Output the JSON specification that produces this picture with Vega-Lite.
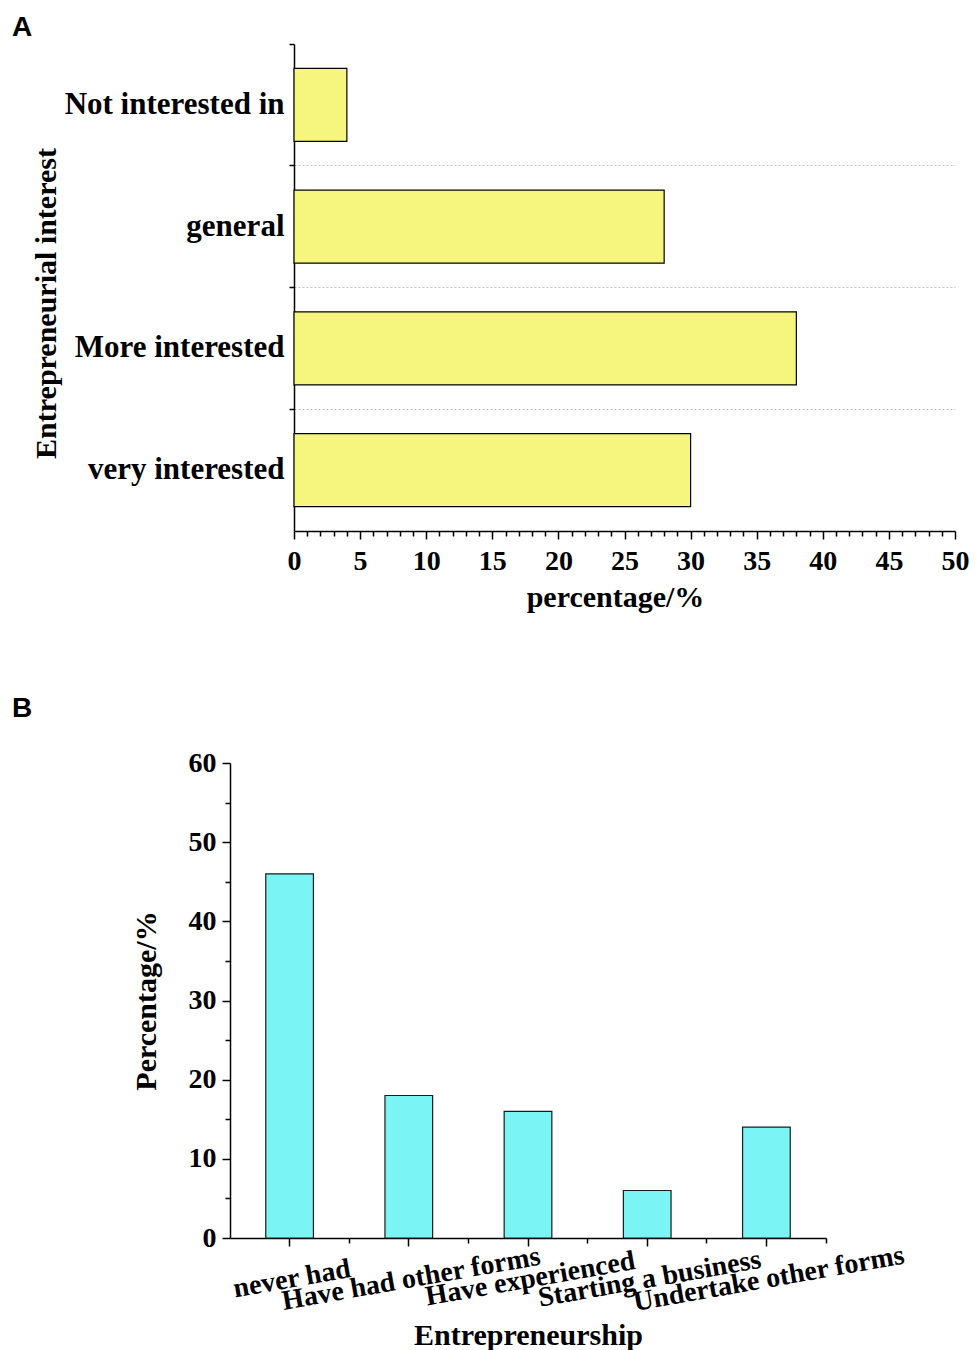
{
  "$schema": "https://vega.github.io/schema/vega-lite/v6.json",
  "autosize": "none",
  "padding": {"left": 294, "top": 44, "right": 681, "bottom": 1306},
  "background": "white",
  "bounds": "flush",
  "spacing": 232,
  "config": {
    "view": {"stroke": null},
    "axis": {
      "labelFont": "Liberation Serif",
      "labelFontWeight": "bold",
      "labelColor": "black",
      "titleFont": "Liberation Serif",
      "titleFontWeight": "bold",
      "titleColor": "black",
      "domainColor": "black",
      "domainWidth": 1.5,
      "tickColor": "black",
      "tickWidth": 1.5,
      "labelLimit": 400,
      "labelOverlap": false,
      "labelFlush": false,
      "grid": false
    },
    "title": {
      "font": "Liberation Sans",
      "fontWeight": "bold",
      "fontSize": 28,
      "color": "black",
      "anchor": "start",
      "frame": "group",
      "baseline": "alphabetic"
    }
  },
  "vconcat": [
    {
      "title": {"text": "A", "dx": -282, "offset": 1},
      "width": 661,
      "height": 487,
      "data": {
        "values": [
          {"interest": "Not interested in", "percentage": 4},
          {"interest": "general", "percentage": 28},
          {"interest": "More interested", "percentage": 38},
          {"interest": "very interested", "percentage": 30}
        ]
      },
      "mark": {"type": "bar", "fill": "#f6f67e", "stroke": "black", "strokeWidth": 1.2},
      "encoding": {
        "y": {
          "field": "interest",
          "type": "nominal",
          "sort": null,
          "scale": {"paddingInner": 0.4, "paddingOuter": 0.2},
          "axis": {
            "title": "Entrepreneurial interest",
            "titleFontSize": 30,
            "titleX": -239,
            "titleY": 259,
            "titleAngle": -90,
            "titleBaseline": "alphabetic",
            "titleAlign": "center",
            "labelFontSize": 31,
            "labelPadding": 5,
            "labelOffset": 0,
            "bandPosition": -0.3333,
            "tickSize": 5,
            "grid": true,
            "gridDash": [2, 2],
            "gridColor": "#c0c0c0",
            "gridWidth": 1,
            "gridOpacity": {"condition": {"test": "datum.value === 'Not interested in'", "value": 0}, "value": 1}
          }
        },
        "x": {
          "field": "percentage",
          "type": "quantitative",
          "scale": {"domain": [0, 50], "nice": false},
          "axis": {
            "title": "percentage/%",
            "titleFontSize": 30,
            "titleX": 321,
            "titleY": 75,
            "titleBaseline": "alphabetic",
            "titleAlign": "center",
            "values": [0, 1, 2, 3, 4, 5, 6, 7, 8, 9, 10, 11, 12, 13, 14, 15, 16, 17, 18, 19, 20, 21, 22, 23, 24, 25, 26, 27, 28, 29, 30, 31, 32, 33, 34, 35, 36, 37, 38, 39, 40, 41, 42, 43, 44, 45, 46, 47, 48, 49, 50],
            "labelExpr": "datum.value % 5 === 0 ? datum.label : ''",
            "labelFontSize": 28,
            "labelPadding": 8,
            "tickSize": {"condition": {"test": "datum.value % 5 === 0", "value": 8}, "value": 5}
          }
        }
      }
    },
    {
      "title": {"text": "B", "dx": -282, "offset": 26},
      "width": 532,
      "height": 475,
      "data": {
        "values": [
          {"experience": "never had", "percentage": 46},
          {"experience": "Have had other forms", "percentage": 18},
          {"experience": "Have experienced", "percentage": 16},
          {"experience": "Starting a business", "percentage": 6},
          {"experience": "Undertake other forms", "percentage": 14}
        ]
      },
      "encoding": {
        "y": {
          "field": "percentage",
          "type": "quantitative",
          "scale": {"domain": [0, 60], "nice": false},
          "axis": {
            "title": "Percentage/%",
            "titleFontSize": 30,
            "titleX": -75,
            "titleY": 237.5,
            "titleAngle": -90,
            "titleBaseline": "alphabetic",
            "titleAlign": "center",
            "offset": 64,
            "values": [0, 5, 10, 15, 20, 25, 30, 35, 40, 45, 50, 55, 60],
            "labelExpr": "datum.value % 10 === 0 ? datum.label : ''",
            "labelFontSize": 28,
            "labelPadding": 6,
            "tickSize": {"condition": {"test": "datum.value % 10 === 0", "value": 8}, "value": 5}
          }
        }
      },
      "layer": [
        {
          "mark": {"type": "bar", "fill": "#7af4f4", "stroke": "#1a1a1a", "strokeWidth": 1.2},
          "encoding": {
            "x": {
              "field": "experience",
              "type": "nominal",
              "sort": null,
              "scale": {"range": [-64, 532], "paddingInner": 0.6, "paddingOuter": 0.3},
              "axis": {
                "title": "Entrepreneurship",
                "titleFontSize": 30,
                "titleX": 234,
                "titleY": 106,
                "titleBaseline": "alphabetic",
                "titleAlign": "center",
                "labelAngle": -10,
                "labelAlign": "center",
                "labelBaseline": "top",
                "labelFontSize": 28,
                "labelPadding": 19,
                "tickSize": 8
              }
            }
          }
        },
        {
          "mark": {"type": "bar", "opacity": 0},
          "encoding": {
            "x": {
              "field": "experience",
              "type": "nominal",
              "sort": null,
              "scale": {"range": [-64, 532], "paddingInner": 0.6, "paddingOuter": 0.3},
              "axis": {
                "orient": "bottom",
                "bandPosition": 1.75,
                "tickSize": 5,
                "labels": false,
                "domain": false,
                "title": null
              }
            }
          }
        }
      ],
      "resolve": {"axis": {"x": "independent"}}
    }
  ]
}
